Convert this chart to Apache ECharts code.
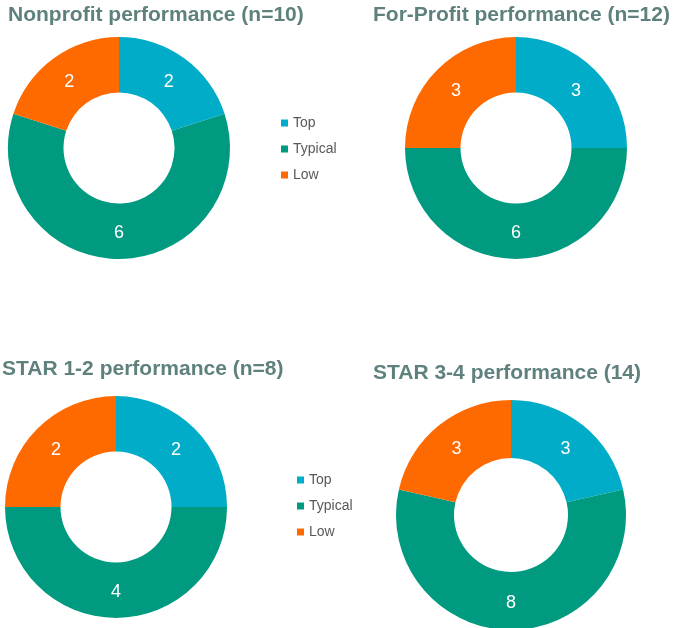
<!DOCTYPE html>
<html><head><meta charset="utf-8">
<script src="https://cdn.jsdelivr.net/npm/echarts@6/dist/echarts.min.js"></script>
<style>html,body{margin:0;padding:0;background:#fff}#c{width:676px;height:628px}</style>
</head><body><div id="c"></div>
<script>
const categories = ['Top', 'Typical', 'Low'];
const titles = ['Nonprofit performance (n=10)', 'For-Profit performance (n=12)', 'STAR 1-2 performance (n=8)', 'STAR 3-4 performance (14)'];
const nonprofit = [2, 6, 2];
const forProfit = [3, 6, 3];
const star12 = [2, 4, 2];
const star34 = [3, 8, 3];
const colors = ['#00ACC8', '#009A80', '#FF6A00'];

const seriesValues = [nonprofit, forProfit, star12, star34];
const centers = [[119, 148], [516, 148], [116, 507], [511, 515]];
const radii = [[55.5, 111], [55.5, 111], [55.5, 111], [57, 115]];
const titlePos = [[8, 5], [373, 5], [2, 359], [373, 363]];
const labelOffsets = [[-1, 4], [0, -1], [1, 4]];
const FONT = '"Liberation Sans", Arial, sans-serif';

const chart = echarts.init(document.getElementById('c'));
chart.setOption({
  animation: false,
  color: colors,
  title: titles.map((t, i) => ({
    text: t, left: titlePos[i][0], top: titlePos[i][1], padding: 0,
    textStyle: { fontSize: 21, fontWeight: 'bold', color: '#5E817E', fontFamily: FONT }
  })),
  legend: [[281, 116], [297, 473]].map(p => ({
    data: categories, orient: 'vertical', left: p[0], top: p[1], padding: 0,
    icon: 'rect', itemWidth: 7, itemHeight: 7, itemGap: 12,
    textStyle: { fontSize: 14, color: '#595959', fontFamily: FONT }
  })),
  series: seriesValues.map((vals, i) => ({
    type: 'pie', center: centers[i], radius: radii[i], startAngle: 90, clockwise: true,
    avoidLabelOverlap: false, silent: true,
    label: { show: true, position: 'inside', formatter: '{c}', color: '#fff', fontSize: 18, fontFamily: FONT },
    labelLine: { show: false },
    itemStyle: { borderWidth: 0 },
    data: categories.map((c, k) => ({ name: c, value: vals[k], label: { offset: labelOffsets[k] } }))
  }))
});
</script></body></html>
